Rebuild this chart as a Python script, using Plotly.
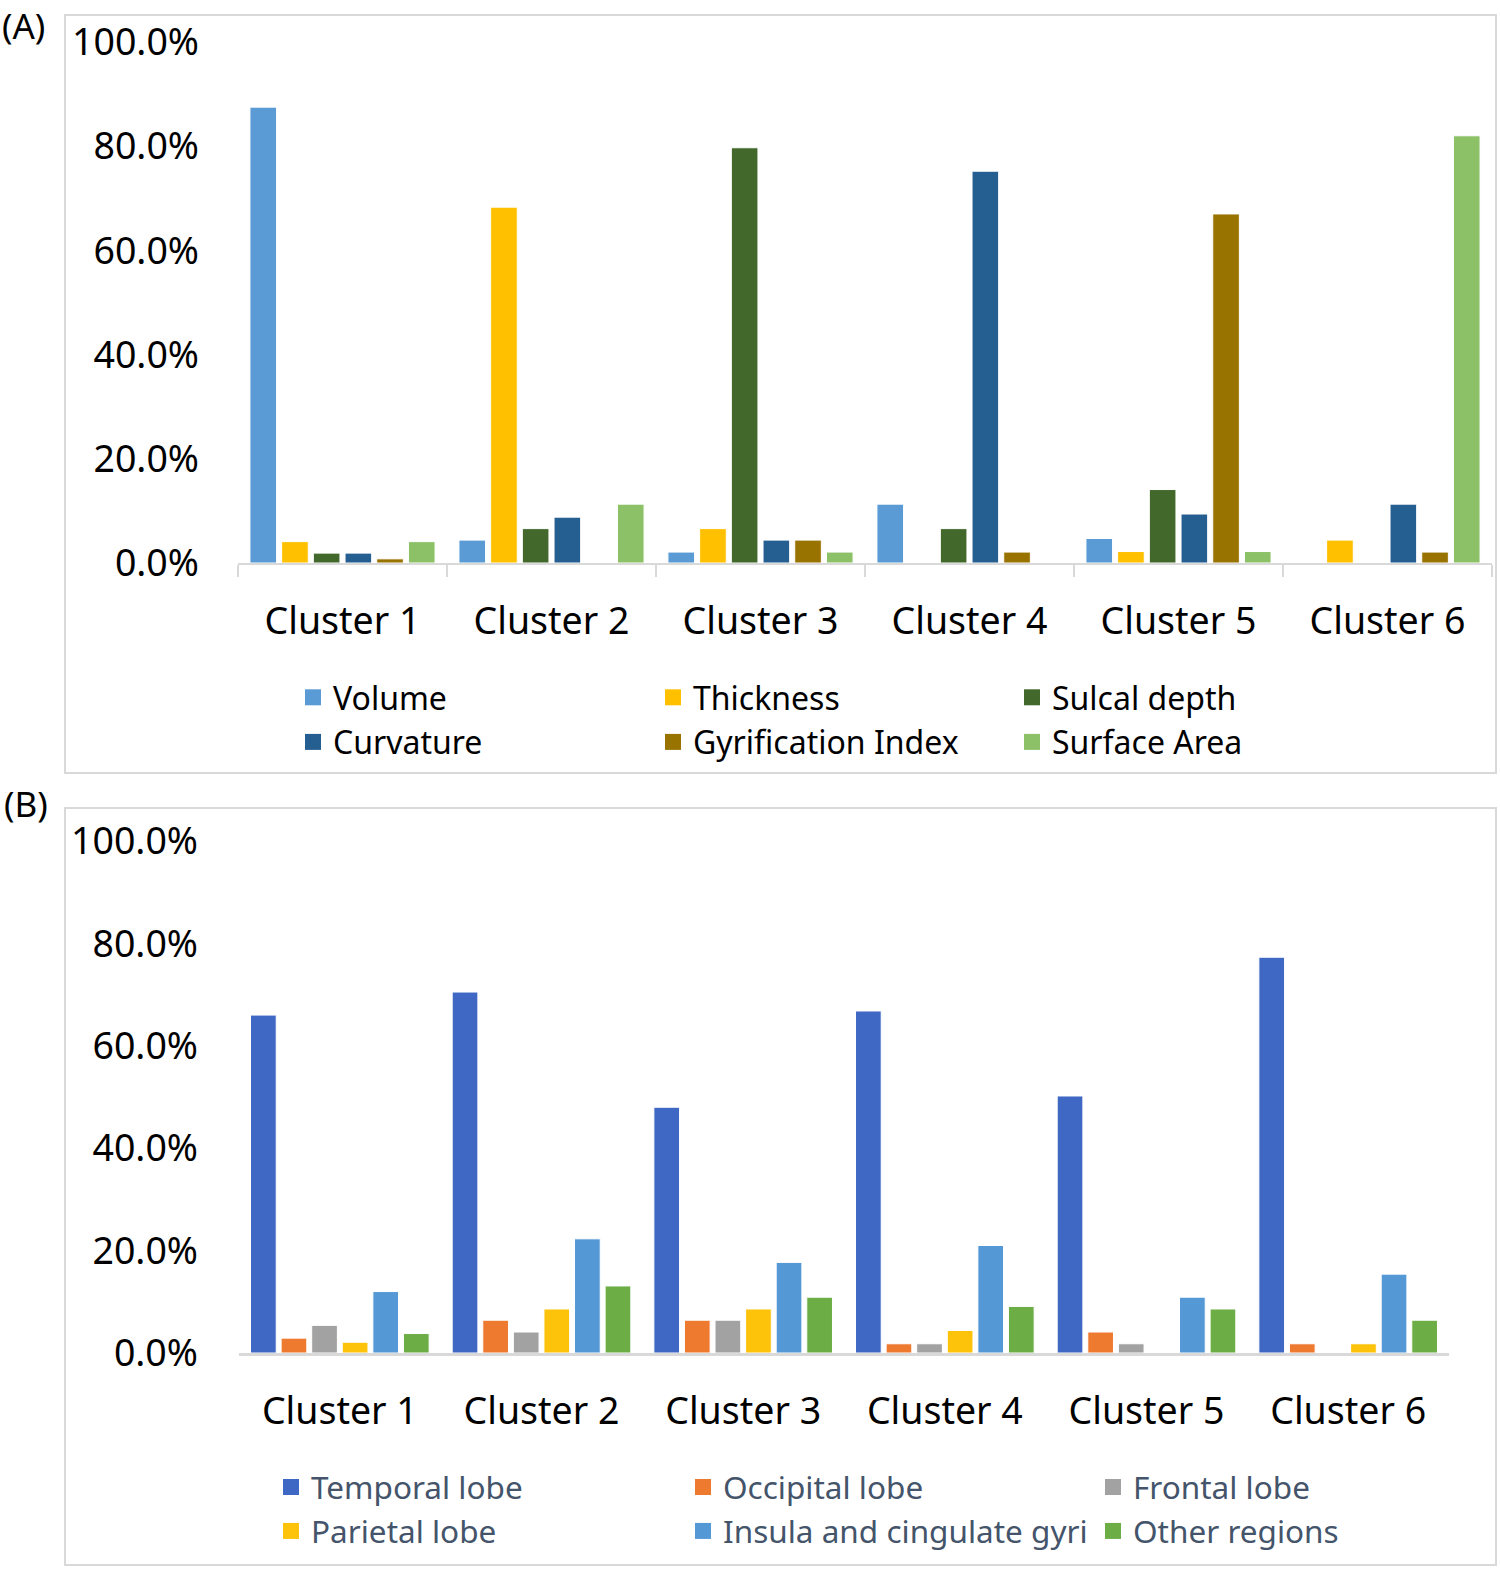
import plotly.graph_objects as go

clusters = ["Cluster 1", "Cluster 2", "Cluster 3", "Cluster 4", "Cluster 5", "Cluster 6"]

# Panel A: feature types (fractions)
a_names = ["Volume", "Thickness", "Sulcal depth", "Curvature", "Gyrification Index", "Surface Area"]
a_volume = [0.875, 0.044, 0.021, 0.113, 0.047, 0.0]
a_thickness = [0.041, 0.683, 0.066, 0.0, 0.022, 0.044]
a_sulcal = [0.019, 0.066, 0.797, 0.066, 0.141, 0.0]
a_curvature = [0.019, 0.088, 0.044, 0.752, 0.094, 0.113]
a_gyrification = [0.008, 0.0, 0.044, 0.021, 0.670, 0.021]
a_surface = [0.041, 0.113, 0.021, 0.0, 0.022, 0.820]
a_values = [a_volume, a_thickness, a_sulcal, a_curvature, a_gyrification, a_surface]
a_colors = ["#5B9BD5", "#FFC000", "#43682B", "#255E91", "#997300", "#8CC168"]

# Panel B: brain regions (fractions)
b_names = ["Temporal lobe", "Occipital lobe", "Frontal lobe", "Parietal lobe",
           "Insula and cingulate gyri", "Other regions"]
b_temporal = [0.660, 0.705, 0.480, 0.668, 0.502, 0.773]
b_occipital = [0.029, 0.064, 0.064, 0.018, 0.041, 0.018]
b_frontal = [0.054, 0.041, 0.064, 0.018, 0.018, 0.0]
b_parietal = [0.021, 0.086, 0.086, 0.044, 0.0, 0.018]
b_insula = [0.120, 0.223, 0.177, 0.210, 0.109, 0.154]
b_other = [0.038, 0.131, 0.109, 0.091, 0.086, 0.064]
b_values = [b_temporal, b_occipital, b_frontal, b_parietal, b_insula, b_other]
b_colors = ["#3E68C4", "#EE7A30", "#A2A2A2", "#FDC20A", "#5598D6", "#6CAD45"]

y_ticks = [0, 0.2, 0.4, 0.6, 0.8, 1.0]
y_ticklabels = ["0.0%", "20.0%", "40.0%", "60.0%", "80.0%", "100.0%"]

W, H = 1500, 1573
FONT = "Noto Sans"

fig = go.Figure()

# legend columns: series index i -> column i % 3
legend_ids_a = ["legend", "legend2", "legend3"]
legend_ids_b = ["legend4", "legend5", "legend6"]

for name, vals, col in zip(a_names, a_values, a_colors):
    fig.add_trace(go.Bar(x=clusters, y=vals, name=name, marker_color=col,
                         marker_line=dict(color="white", width=1),
                         xaxis="x", yaxis="y", showlegend=False, offsetgroup=name))
for i, (name, col) in enumerate(zip(a_names, a_colors)):
    fig.add_trace(go.Scatter(x=[None], y=[None], mode="markers", name=name,
                             marker=dict(symbol="square", size=16, color=col),
                             xaxis="x", yaxis="y", legend=legend_ids_a[i % 3], showlegend=True))

for name, vals, col in zip(b_names, b_values, b_colors):
    fig.add_trace(go.Bar(x=clusters, y=vals, name=name, marker_color=col,
                         marker_line=dict(color="white", width=1),
                         xaxis="x2", yaxis="y2", showlegend=False, offsetgroup=name))
for i, (name, col) in enumerate(zip(b_names, b_colors)):
    fig.add_trace(go.Scatter(x=[None], y=[None], mode="markers", name=name,
                             marker=dict(symbol="square", size=16, color=col),
                             xaxis="x2", yaxis="y2", legend=legend_ids_b[i % 3], showlegend=True))

def px_x(p):
    return p / W

def px_y(p):
    return 1 - p / H

axis_font = dict(family=FONT, size=37.5, color="#000000")

fig.update_layout(
    width=W, height=H,
    margin=dict(l=0, r=0, t=0, b=0, autoexpand=False),
    paper_bgcolor="white", plot_bgcolor="white",
    barmode="group", bargap=0.09, bargroupgap=0.16,
    font=dict(family=FONT, color="#000000"),
    xaxis=dict(domain=[px_x(238), px_x(1492)], anchor="y", type="category",
               showgrid=False, showline=True, linecolor="#D9D9D9", linewidth=2,
               ticks="outside", tickson="boundaries", ticklen=12, tickcolor="#D9D9D9",
               tickwidth=2, tickfont=axis_font, ticklabelstandoff=24, automargin=False),
    yaxis=dict(domain=[px_y(563), px_y(42)], anchor="x", range=[0, 1],
               tickvals=y_ticks, ticktext=y_ticklabels, showgrid=False, showline=False,
               zeroline=False, tickfont=axis_font, ticklabelstandoff=38, automargin=False),
    xaxis2=dict(domain=[px_x(239), px_x(1449)], anchor="y2", type="category",
                showgrid=False, showline=True, linecolor="#D9D9D9", linewidth=3,
                ticks="", tickfont=axis_font, ticklabelstandoff=23, automargin=False),
    yaxis2=dict(domain=[px_y(1353), px_y(841)], anchor="x2", range=[0, 1],
                tickvals=y_ticks, ticktext=y_ticklabels, showgrid=False, showline=False,
                zeroline=False, tickfont=axis_font, ticklabelstandoff=40, automargin=False),
)

leg_common = dict(orientation="v", xanchor="left", yanchor="middle",
                  bgcolor="rgba(0,0,0,0)", traceorder="normal",
                  itemclick=False, itemdoubleclick=False, tracegroupgap=0)
a_font = dict(family=FONT, size=32, color="#000000")
b_font = dict(family=FONT, size=31.5, color="#44546A")
a_cols = [293, 653, 1012]
b_cols = [271, 683, 1093]
legends = {}
for lid, xc in zip(legend_ids_a, a_cols):
    legends[lid] = dict(x=px_x(xc), y=px_y(720), font=a_font, **leg_common)
for lid, xc in zip(legend_ids_b, b_cols):
    legends[lid] = dict(x=px_x(xc), y=px_y(1509), font=b_font, **leg_common)
fig.update_layout(**legends)

shapes = []
for (x0, y0, x1, y1) in [(65, 15, 1496, 773), (65, 808, 1496, 1565)]:
    shapes.append(dict(type="rect", xref="paper", yref="paper",
                       x0=px_x(x0), x1=px_x(x1), y0=px_y(y1), y1=px_y(y0),
                       line=dict(color="#D9D9D9", width=2), fillcolor="rgba(0,0,0,0)",
                       layer="below"))
fig.update_layout(shapes=shapes)

fig.add_annotation(text="(A)", xref="paper", yref="paper", x=px_x(0), y=1.0,
                   xanchor="left", yanchor="top", showarrow=False,
                   font=dict(family=FONT, size=35, color="#000000"))
fig.add_annotation(text="(B)", xref="paper", yref="paper", x=px_x(2), y=px_y(803),
                   xanchor="left", yanchor="middle", showarrow=False,
                   font=dict(family=FONT, size=35, color="#000000"))

fig.write_html("out.html", config={"displayModeBar": False},
               post_script="document.body.style.margin='0px';")
